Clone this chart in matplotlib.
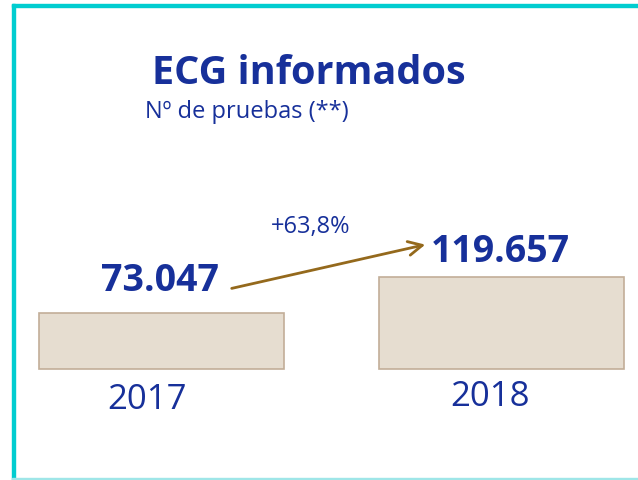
import matplotlib
matplotlib.use("Agg")
import matplotlib.pyplot as plt
from matplotlib.patches import Rectangle

years = ["2017", "2018"]
values = [73047, 119657]
value_labels = ["73.047", "119.657"]
change_label = "+63,8%"
title = "ECG informados"
subtitle = "Nº de pruebas (**)"

W, H = 638, 480
fig = plt.figure(figsize=(W / 100, H / 100), dpi=100)
fig.patch.set_facecolor("white")

ax = fig.add_axes([0, 0, 1, 1])
px_per_unit = 340.0
x0_px = 161.5
base_py = 369.0
val_per_px = 1302.0
ax.set_xlim(-x0_px / px_per_unit, (W - x0_px) / px_per_unit)
ax.set_ylim(-(H - base_py) * val_per_px, base_py * val_per_px)
ax.axis("off")

def px(x, y):
    return ((x - x0_px) / px_per_unit, (base_py - y) * val_per_px)

blue = "#17309a"
bar_face = "#e6ddd0"
bar_edge = "#c2ae98"
arrow_col = "#94691c"

xs = list(range(len(years)))
ax.bar(xs, values, width=0.718, color=bar_face, edgecolor=bar_edge, linewidth=1.2)

fam = ["Open Sans", "DejaVu Sans"]

lab_pos = [(160, 281), (500, 252)]
for (lx, ly), t in zip(lab_pos, value_labels):
    ax.text(*px(lx, ly), t, ha="center", va="center", fontsize=27, fontweight="bold",
            color=blue, family=fam)

yr_pos = [(147, 400), (490, 397)]
for (lx, ly), t in zip(yr_pos, years):
    ax.text(*px(lx, ly), t, ha="center", va="center", fontsize=25, color=blue, family=fam)

ax.annotate("", xy=px(428, 244), xytext=px(229, 289),
            arrowprops=dict(arrowstyle="->,head_length=1.0,head_width=0.5", color=arrow_col, lw=2))
ax.text(*px(311, 227), change_label, ha="center", va="center", fontsize=17, color=blue, family=fam)

ax.text(*px(309, 74), title, ha="center", va="center", fontsize=28.5, fontweight="bold",
        color=blue, family=fam)
ax.text(*px(145, 112), subtitle, ha="left", va="center", fontsize=17, color=blue, family=fam)

teal = "#00cdd0"
fig.patches.append(Rectangle((12 / W, 1 - 7 / H), 1, 3 / H, transform=fig.transFigure,
                             color=teal, zorder=5))
fig.patches.append(Rectangle((12 / W, 0), 3 / W, 1 - 4 / H, transform=fig.transFigure,
                             color=teal, zorder=5))
fig.patches.append(Rectangle((12 / W, 0), 1, 2 / H, transform=fig.transFigure,
                             color="#9fe6e8", zorder=5))

fig.savefig("out.png", dpi=100, facecolor="white")
